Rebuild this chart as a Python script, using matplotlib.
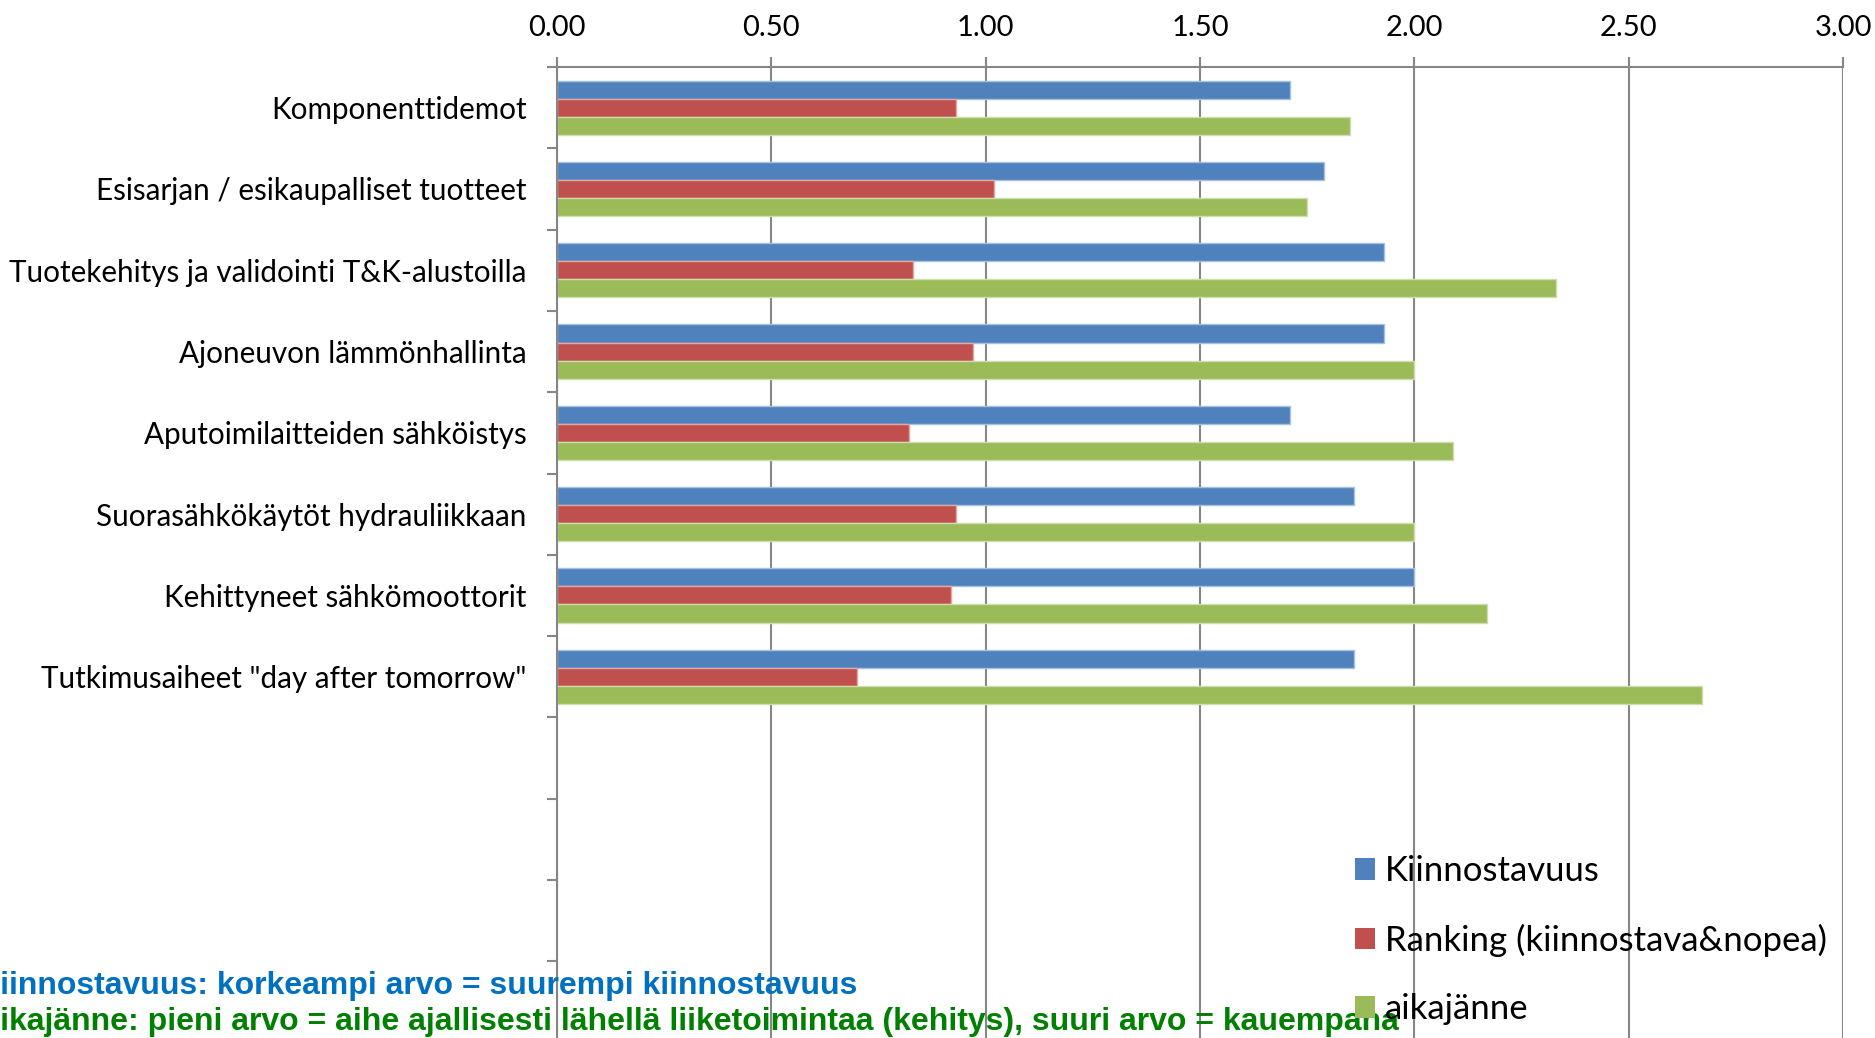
import numpy as np
import matplotlib.pyplot as plt
from matplotlib.patches import Patch

categories = [
    'Komponenttidemot',
    'Esisarjan / esikaupalliset tuotteet',
    'Tuotekehitys ja validointi T&K-alustoilla',
    'Ajoneuvon lämmönhallinta',
    'Aputoimilaitteiden sähköistys',
    'Suorasähkökäytöt hydrauliikkaan',
    'Kehittyneet sähkömoottorit',
    'Tutkimusaiheet "day after tomorrow"',
]
kiinnostavuus = [1.71, 1.79, 1.93, 1.93, 1.71, 1.86, 2.00, 1.86]
ranking = [0.93, 1.02, 0.83, 0.97, 0.82, 0.93, 0.92, 0.70]
aikajanne = [1.85, 1.75, 2.33, 2.00, 2.09, 2.00, 2.17, 2.67]
series_names = ['Kiinnostavuus', 'Ranking (kiinnostava&nopea)', 'aikajänne']
x_ticks = [0.0, 0.5, 1.0, 1.5, 2.0, 2.5, 3.0]
n_slots = 12  # category axis has room for 12 rows, only 8 are used

note_blue = 'Kiinnostavuus: korkeampi arvo = suurempi kiinnostavuus'
note_green = 'Aikajänne: pieni arvo = aihe ajallisesti lähellä liiketoimintaa (kehitys), suuri arvo = kauempana'

colors = ['#4F81BD', '#C0504D', '#9BBB59']
edges = ['#A7C0DE', '#E0A8A6', '#CDDDAC']
grid_c = '#868686'
label_font = 'Lato'

fig = plt.figure(figsize=(18.75, 10.38), dpi=100)
ax = fig.add_axes([0.2971, -0.0045, 0.6859, 0.9400])

pos = np.arange(len(categories))
h = 0.2222
for i, vals in enumerate([kiinnostavuus, ranking, aikajanne]):
    ax.barh(pos + (i - 1) * h, vals, height=h, color=colors[i],
            edgecolor=edges[i], linewidth=1, zorder=2)

ax.set_xlim(0, 3.0)
ax.set_ylim(n_slots - 0.5, -0.5)

ax.xaxis.tick_top()
ax.set_xticks(x_ticks)
ax.set_xticklabels([f'{v:.2f}' for v in x_ticks], fontsize=21, family=label_font)
ax.tick_params(axis='x', which='major', length=7, width=1.5, color=grid_c, pad=12)
ax.grid(axis='x', color=grid_c, linewidth=1.5, zorder=0)

ax.set_yticks(pos)
ax.set_yticklabels(categories, fontsize=21.3, family=label_font)
ax.set_yticks(np.arange(-0.5, n_slots, 1.0), minor=True)
ax.tick_params(axis='y', which='major', length=0, pad=22)
ax.tick_params(axis='y', which='minor', length=7, width=1.5, color=grid_c)

for side in ['right', 'bottom']:
    ax.spines[side].set_visible(False)
for side in ['left', 'top']:
    ax.spines[side].set_color(grid_c)
    ax.spines[side].set_linewidth(1.5)

handles = [Patch(facecolor=c, edgecolor='none') for c in colors]
fig.legend(handles, series_names, loc='upper left', bbox_to_anchor=(0.7227, 0.176),
           frameon=False, borderpad=0, borderaxespad=0, handlelength=0.58,
           handleheight=0.58, handletextpad=0.28, labelspacing=1.05,
           prop={'family': label_font, 'size': 25})

# explanatory notes under the chart, first letter runs off the left edge
fig.text(-0.0124, 0.050, note_blue, ha='left', va='center', color='#0070C0',
         fontsize=23, fontweight='bold', family='Liberation Sans')
fig.text(-0.0124, 0.0154, note_green, ha='left', va='center', color='#008000',
         fontsize=23, fontweight='bold', family='Liberation Sans')

fig.savefig('out.png', dpi=100)
